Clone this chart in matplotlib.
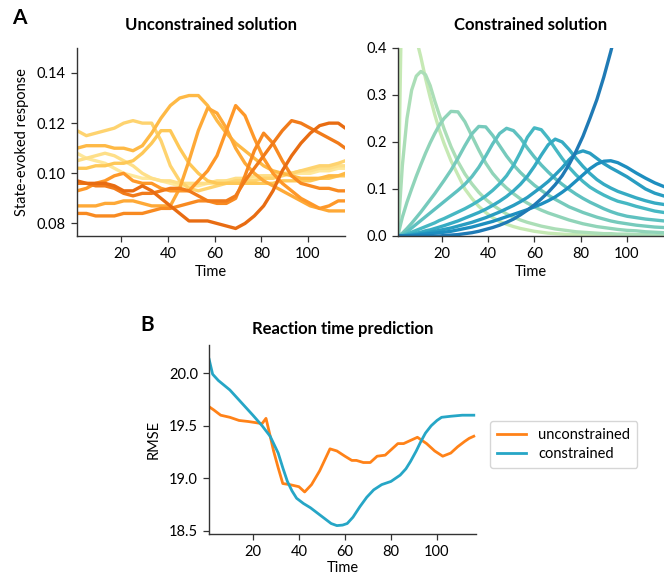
# Recreates the three-panel figure: unconstrained vs constrained solutions and
# RMSE of the reaction time prediction over time.
import numpy as np
import matplotlib
matplotlib.use('Agg')
import matplotlib.pyplot as plt

plt.rcParams['font.family'] = ['Lato', 'DejaVu Sans']
plt.rcParams['font.size'] = 10.5

# ---- panel A left: unconstrained solution ----
time_unc = [1, 5, 9, 13, 17, 21, 25, 29, 33, 37, 41, 45, 49, 53, 57, 61, 65, 69, 73, 77,
            81, 85, 89, 93, 97, 101, 105, 109, 113, 116]
unc_lines = [
    [108, 106, 105, 104, 102, 100, 99, 98, 98, 97, 96, 95, 95, 95, 96, 96, 97, 97, 98, 98,
     99, 99, 100, 100, 100, 100, 101, 101, 102, 102],
    [105, 106, 107, 108, 107, 105, 103, 100, 98, 97, 97, 96, 96, 96, 96, 97, 97, 98, 98, 99,
     99, 99, 100, 100, 101, 101, 102, 102, 103, 103],
    [117, 115, 116, 117, 118, 120, 121, 120, 120, 113, 103, 97, 94, 93, 94, 95, 96, 97, 97, 97,
     98, 98, 99, 100, 101, 102, 103, 103, 104, 105],
    [102, 102, 103, 103, 104, 104, 105, 108, 112, 117, 117, 110, 104, 100, 97, 96, 96, 96, 96, 96,
     96, 96, 97, 97, 97, 97, 98, 98, 99, 99],
    [110, 111, 111, 111, 110, 110, 109, 111, 116, 122, 127, 130, 131, 131, 127, 121, 116, 112, 109, 106,
     103, 101, 100, 99, 98, 98, 98, 99, 99, 100],
    [87, 87, 87, 88, 88, 89, 89, 88, 87, 87, 87, 94, 105, 117, 126, 124, 118, 110, 104, 100,
     97, 95, 93, 91, 89, 87, 86, 85, 85, 85],
    [93, 94, 96, 97, 99, 100, 97, 96, 96, 94, 93, 93, 93, 97, 101, 107, 117, 127, 123, 114,
     106, 100, 96, 93, 90, 88, 86, 87, 89, 89],
    [84, 84, 83, 83, 83, 84, 84, 84, 85, 86, 86, 87, 88, 89, 89, 88, 88, 90, 99, 109,
     116, 112, 105, 99, 96, 95, 94, 94, 93, 93],
    [96, 96, 95, 95, 94, 92, 91, 92, 92, 93, 94, 94, 93, 91, 89, 89, 89, 91, 97, 102,
     107, 112, 117, 121, 120, 118, 116, 114, 112, 110],
    [97, 96, 96, 96, 95, 93, 93, 95, 93, 90, 87, 84, 81, 81, 81, 80, 79, 78, 80, 83,
     87, 93, 101, 107, 112, 116, 119, 120, 120, 118],
]  # in units of 0.001

# ---- panel A right: constrained solution ----
time_con = [1, 3, 5, 7, 9, 11, 13, 15, 17, 19, 21, 24, 27, 30, 33, 36, 39, 42, 45, 48,
            51, 54, 57, 60, 63, 66, 69, 72, 75, 78, 81, 84, 87, 90, 93, 96, 100, 104, 108, 112, 116]
con_lines = [
    [0, 0.6, 0.62, 0.52, 0.42, 0.38, 0.335, 0.295, 0.258, 0.225, 0.197, 0.16, 0.13, 0.1, 0.08,
     0.063, 0.05, 0.039, 0.031, 0.025, 0.02, 0.016, 0.013, 0.01, 0.008, 0.006, 0.005, 0.004,
     0.003, 0.003, 0.002, 0.002, 0.001, 0.001, 0.001, 0.001, 0, 0, 0, 0, 0],
    [0, 0.15, 0.25, 0.31, 0.34, 0.35, 0.343, 0.32, 0.287, 0.257, 0.228, 0.19, 0.158, 0.132,
     0.111, 0.093, 0.078, 0.066, 0.056, 0.047, 0.04, 0.034, 0.029, 0.025, 0.021, 0.018, 0.015,
     0.013, 0.011, 0.009, 0.008, 0.007, 0.006, 0.005, 0.005, 0.004, 0.004, 0.003, 0.003, 0.002, 0.002],
    [0, 0.04, 0.072, 0.1, 0.127, 0.152, 0.176, 0.198, 0.218, 0.236, 0.25, 0.265, 0.264, 0.243,
     0.213, 0.183, 0.155, 0.133, 0.116, 0.102, 0.09, 0.079, 0.07, 0.062, 0.055, 0.049, 0.044,
     0.039, 0.034, 0.03, 0.026, 0.023, 0.02, 0.018, 0.016, 0.014, 0.012, 0.011, 0.009, 0.008, 0.007],
    [0, 0.006, 0.016, 0.027, 0.039, 0.051, 0.064, 0.077, 0.09, 0.104, 0.118, 0.14, 0.165, 0.192,
     0.217, 0.233, 0.232, 0.214, 0.192, 0.17, 0.151, 0.135, 0.121, 0.108, 0.097, 0.087, 0.078,
     0.07, 0.062, 0.056, 0.05, 0.045, 0.04, 0.036, 0.032, 0.029, 0.026, 0.023, 0.021, 0.019, 0.018],
    [0, 0.003, 0.009, 0.017, 0.025, 0.033, 0.041, 0.049, 0.057, 0.065, 0.073, 0.085, 0.097, 0.11,
     0.126, 0.146, 0.17, 0.196, 0.218, 0.229, 0.224, 0.208, 0.187, 0.168, 0.151, 0.136, 0.122,
     0.11, 0.099, 0.089, 0.08, 0.072, 0.065, 0.058, 0.052, 0.047, 0.042, 0.039, 0.036, 0.034, 0.032],
    [0, 0.001, 0.004, 0.008, 0.012, 0.016, 0.02, 0.024, 0.028, 0.033, 0.037, 0.044, 0.051, 0.058,
     0.066, 0.075, 0.085, 0.097, 0.111, 0.128, 0.15, 0.178, 0.21, 0.23, 0.226, 0.208, 0.186,
     0.165, 0.146, 0.13, 0.116, 0.104, 0.095, 0.087, 0.08, 0.074, 0.069, 0.063, 0.058, 0.053, 0.05],
    [0, 0, 0.002, 0.004, 0.006, 0.008, 0.011, 0.013, 0.016, 0.019, 0.022, 0.027, 0.032, 0.038,
     0.044, 0.05, 0.057, 0.065, 0.074, 0.084, 0.096, 0.11, 0.127, 0.148, 0.172, 0.194, 0.206,
     0.2, 0.184, 0.165, 0.148, 0.133, 0.12, 0.11, 0.102, 0.095, 0.088, 0.081, 0.075, 0.07, 0.067],
    [0, 0, 0.001, 0.002, 0.003, 0.005, 0.006, 0.008, 0.01, 0.012, 0.014, 0.017, 0.021, 0.025,
     0.029, 0.034, 0.039, 0.045, 0.051, 0.058, 0.065, 0.073, 0.082, 0.093, 0.104, 0.116, 0.13,
     0.145, 0.162, 0.176, 0.181, 0.176, 0.165, 0.154, 0.145, 0.137, 0.126, 0.113, 0.1, 0.091, 0.085],
    [0, 0, 0, 0.001, 0.002, 0.003, 0.004, 0.005, 0.006, 0.007, 0.008, 0.01, 0.013, 0.016,
     0.019, 0.023, 0.027, 0.031, 0.036, 0.041, 0.046, 0.051, 0.056, 0.062, 0.068, 0.075, 0.083,
     0.093, 0.104, 0.117, 0.13, 0.143, 0.153, 0.159, 0.16, 0.156, 0.146, 0.134, 0.123, 0.113, 0.105],
    [0, 0, 0, 0, 0, 0, 0, 0, 0, 0, 0.001, 0.002, 0.003, 0.005,
     0.007, 0.01, 0.014, 0.018, 0.023, 0.029, 0.036, 0.045, 0.055, 0.066, 0.079, 0.093, 0.109,
     0.128, 0.152, 0.18, 0.212, 0.25, 0.29, 0.338, 0.392, 0.45, 0.53, 0.62, 0.72, 0.84, 0.97],
]

# ---- panel B: reaction time prediction ----
time_b_unc = [1, 3, 6, 10, 14, 18, 21, 24, 25.7, 27, 29, 31, 33, 36, 40, 42.5, 45.5, 49, 53.5,
              56.5, 60, 63, 65, 68, 71, 74, 77.5, 80, 83, 85.5, 88.5, 91.5, 95.5, 99, 102.5,
              106, 109, 112, 114, 116]
rmse_unc = [19.68, 19.65, 19.60, 19.58, 19.55, 19.54, 19.53, 19.52, 19.57, 19.45, 19.26, 19.10,
            18.95, 18.94, 18.92, 18.87, 18.94, 19.07, 19.28, 19.26, 19.21, 19.17, 19.17, 19.15,
            19.15, 19.21, 19.22, 19.27, 19.33, 19.33, 19.36, 19.39, 19.33, 19.26, 19.21, 19.24,
            19.30, 19.35, 19.38, 19.40]
time_b_con = [1, 2.5, 5, 10, 15, 20, 24, 27.5, 31, 33, 35, 37, 39, 42, 45, 48, 51, 54, 56.5, 59,
              61, 63.5, 66.5, 69.5, 72.5, 76, 80, 84, 86.5, 88.5, 91, 93, 95, 97.5, 100, 102,
              106, 111, 116]
rmse_con = [20.13, 19.99, 19.93, 19.84, 19.72, 19.60, 19.50, 19.40, 19.24, 19.10, 18.97, 18.88,
            18.81, 18.76, 18.72, 18.67, 18.62, 18.57, 18.55, 18.555, 18.57, 18.63, 18.73, 18.82,
            18.89, 18.94, 18.97, 19.03, 19.09, 19.16, 19.26, 19.35, 19.43, 19.50, 19.55, 19.58,
            19.59, 19.60, 19.60]


def style_axes(ax):
    for side in ['top', 'right']:
        ax.spines[side].set_visible(False)
    for side in ['left', 'bottom']:
        ax.spines[side].set_color('#333333')
        ax.spines[side].set_linewidth(1.0)
    ax.tick_params(direction='out', length=4, width=0.9, color='#333333', labelsize=10.5, pad=4)
    ax.set_xticks([20, 40, 60, 80, 100])


fig = plt.figure(figsize=(6.64, 5.77), dpi=100)
axL = fig.add_axes([0.116, 0.591, 0.404, 0.326])
axR = fig.add_axes([0.599, 0.591, 0.401, 0.326])
axB = fig.add_axes([0.315, 0.0745, 0.402, 0.328])

# unconstrained
unc_colors = plt.cm.YlOrBr(np.linspace(0.22, 0.64, len(unc_lines)))
for vals, c in zip(unc_lines, unc_colors):
    axL.plot(time_unc, np.array(vals) / 1000, color=c, lw=2.4, solid_capstyle='round')
axL.set_xlim(1, 116)
axL.set_ylim(0.075, 0.15)
axL.set_yticks([0.08, 0.10, 0.12, 0.14])
axL.set_yticklabels(['0.08', '0.10', '0.12', '0.14'])
axL.set_xlabel('Time', labelpad=3)
axL.set_ylabel('State-evoked response', labelpad=6)
axL.set_title('Unconstrained solution', fontsize=12, fontweight='bold', pad=13)
style_axes(axL)

# constrained
con_colors = plt.cm.YlGnBu(np.linspace(0.25, 0.68, len(con_lines)))
for vals, c in zip(con_lines, con_colors):
    axR.plot(time_con, vals, color=c, lw=2.4)
axR.set_xlim(1, 116)
axR.set_ylim(0, 0.4)
axR.set_yticks([0.0, 0.1, 0.2, 0.3, 0.4])
axR.set_xlabel('Time', labelpad=3)
axR.set_title('Constrained solution', fontsize=12, fontweight='bold', pad=13)
style_axes(axR)

# reaction time prediction
axB.plot(time_b_unc, rmse_unc, color='#ff8218', lw=2.0, label='unconstrained')
axB.plot(time_b_con, rmse_con, color='#26a6c6', lw=2.0, label='constrained')
axB.set_xlim(1, 117)
axB.set_ylim(18.47, 20.27)
axB.set_yticks([18.5, 19.0, 19.5, 20.0])
axB.set_xlabel('Time', labelpad=1)
axB.set_ylabel('RMSE', labelpad=6)
axB.set_title('Reaction time prediction', fontsize=12, fontweight='bold', pad=8)
style_axes(axB)
fig.legend(loc='upper left', bbox_to_anchor=(0.727, 0.283), fontsize=10.5, frameon=True,
           edgecolor='#cccccc', handlelength=2.0, borderpad=0.5, labelspacing=0.3)

fig.text(0.018, 0.969, 'A', fontsize=15, fontweight='bold', va='center', ha='left')
fig.text(0.211, 0.437, 'B', fontsize=15, fontweight='bold', va='center', ha='left')

fig.savefig('out.png', dpi=100)
